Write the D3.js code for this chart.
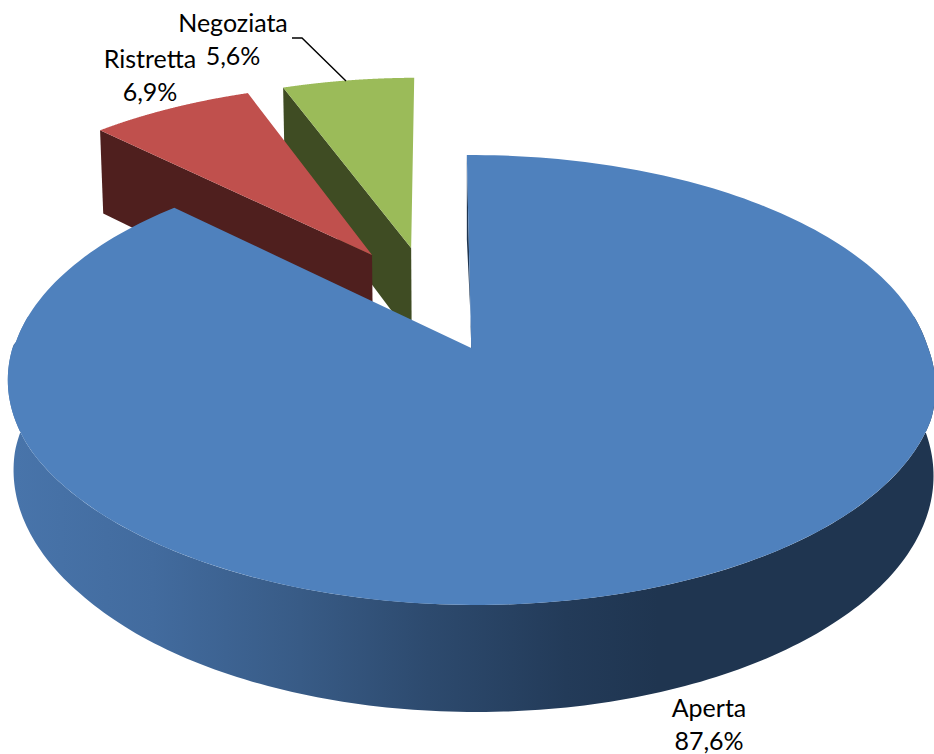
<!DOCTYPE html>
<html><head><meta charset="utf-8">
<script src="https://cdn.jsdelivr.net/npm/d3@7"></script>
<style>html,body{margin:0;padding:0;background:#fff;overflow:hidden}svg{display:block}</style>
</head><body><svg id="c" width="934" height="754"></svg>
<script>
const categories = ["Aperta", "Ristretta", "Negoziata"];
const shareValues = [87.6, 6.9, 5.6];
const shareLabels = ["87,6%", "6,9%", "5,6%"];

// view parameters
const W = 934, H = 754;
const rotation = -0.6 * Math.PI / 180;
const persp = 0.1422, depthPersp = 0.01, depth = 95.5 / 220.4;
const explodeX = [0, -0.2304, -0.14], explodeY = [0, 0.449, 0.485];
const topColors = ["#4f81bd", "#c0504d", "#9bbb59"];
const wallColors = ["#1f3550", "#4f1f1e", "#3f4c23"];

const svg = d3.select("#c");
const x = d3.scaleLinear().domain([-1, 1]).range([471 - 457, 471 + 457]);
const y = d3.scaleLinear().domain([-1, 1]).range([348 + 220.4, 348 - 220.4]);
// the near half of the photographed pie sits a few pixels to the right
const nearShiftRight = d3.scaleLinear().domain([345, 420]).range([0, 5.5]).clamp(true);
const nearShiftLeft = d3.scaleLinear().domain([450, 600]).range([-1.5, 5.5]).clamp(true);

const pie = d3.pie().sort(null).startAngle(rotation).endAngle(rotation + 2 * Math.PI);
const arcs = pie(shareValues);

function proj(wx, wy, z) {
  const w = 1 + persp * wy + depthPersp * z;
  const sy = y((wy - depth * z) / w);
  const shift = wx < 0 && sy > 345 ? nearShiftLeft(sy) : nearShiftRight(sy);
  return [x(wx / w) + shift, sy];
}
const line = d3.line();
const rim = (i, a0, a1, z, n) => d3.range(n + 1).map(k => {
  const t = a0 + (a1 - a0) * k / n;
  return proj(explodeX[i] + Math.sin(t), explodeY[i] + Math.cos(t), z);
});
const apex = (i, z) => proj(explodeX[i], explodeY[i], z);

const defs = svg.append("defs");
const grad = defs.append("linearGradient").attr("id", "wallGrad")
  .attr("gradientUnits", "userSpaceOnUse").attr("x1", 15).attr("x2", 934).attr("y1", 0).attr("y2", 0);
[[0, "#4874aa"], [0.15, "#426b9e"], [0.31, "#385b86"], [0.45, "#2d4a6e"], [0.6, "#233b59"], [0.7, "#1f3550"], [1, "#1f3550"]]
  .forEach(s => grad.append("stop").attr("offset", s[0]).attr("stop-color", s[1]));

// side faces and tops, back to front
[2, 1, 0].forEach(i => {
  const a = arcs[i];
  const g = svg.append("g").attr("class", "slice-" + categories[i]);
  // start-edge wall (radial cut)
  const cut = a.startAngle;
  const p0 = rim(i, cut, cut, 0, 1)[0], p1 = rim(i, cut, cut, 1, 1)[0];
  g.append("path").attr("d", line([p0, apex(i, 0), apex(i, 1), p1]) + "Z").attr("fill", wallColors[i]);
  // outer wall of the big slice
  if (i === 0) {
    const lo = Math.PI / 2 - 0.15, hi = 3 * Math.PI / 2 + 0.15;
    const top = rim(i, lo, hi, 0, 200), bot = rim(i, hi, lo, 1, 200);
    g.append("path").attr("d", line(top.concat(bot)) + "Z").attr("fill", "url(#wallGrad)");
  }
  const outer = rim(i, a.startAngle, a.endAngle, 0, 240);
  g.append("path").attr("d", line([apex(i, 0)].concat(outer)) + "Z").attr("fill", topColors[i]);
});

// labels
const labelPos = [[709, 717], [150, 68], [233, 32]];
const t = svg.append("g").attr("font-family", "Lato, 'Open Sans', sans-serif").attr("font-size", 25).attr("fill", "#000").attr("text-anchor", "middle");
categories.forEach((c, i) => {
  t.append("text").attr("x", labelPos[i][0]).attr("y", labelPos[i][1]).text(c);
  t.append("text").attr("x", labelPos[i][0]).attr("y", labelPos[i][1] + 33).text(shareLabels[i]);
});
svg.append("path").attr("d", d3.line()([[292, 38], [302, 38], [346, 81]])).attr("fill", "none").attr("stroke", "#000").attr("stroke-width", 1.4);
</script></body></html>
